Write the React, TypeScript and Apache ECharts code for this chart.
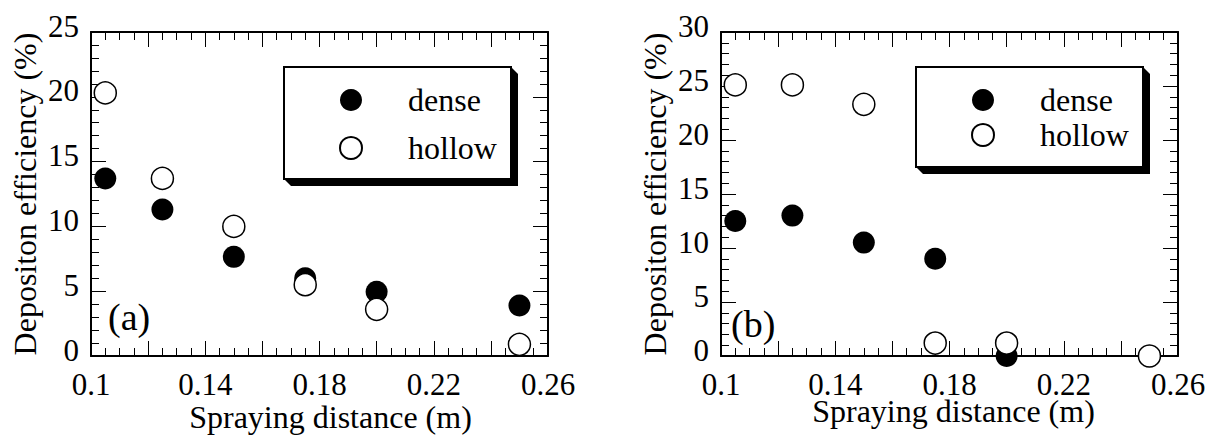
import React, { useEffect, useRef } from "react";
import * as echarts from "echarts";

const xDist = [0.105, 0.125, 0.15, 0.175, 0.2, 0.25];
const denseA = [13.7, 11.3, 7.65, 6.0, 4.95, 3.9];
const hollowA = [20.3, 13.7, 10.0, 5.5, 3.6, 0.9];
const denseB = [12.5, 13.0, 10.5, 9.0, 0.0, 0.0];
const hollowB = [25.1, 25.1, 23.3, 1.2, 1.2, 0.0];
const seriesNames = ["dense", "hollow"];
const panelLabels = ["(a)", "(b)"];
const yMaxes = [25, 30];
const xTitle = "Spraying distance (m)";
const yTitle = "Depositon efficiency (%)";

const FONT = "'Liberation Serif', 'Times New Roman', Times, serif";

export default function App() {
  const ref = useRef<HTMLDivElement>(null);
  useEffect(() => {
    if (!ref.current) return;
    const chart = echarts.init(ref.current, undefined, { renderer: "svg" });
    const grids = [
      { left: 91, top: 32, width: 457, height: 324, outerBoundsMode: "none", containLabel: false },
      { left: 721, top: 32, width: 457, height: 324, outerBoundsMode: "none", containLabel: false },
    ];
    const xLabelFmt = (v: number) => {
      const k = Math.round(v * 100);
      return k % 4 === 2 ? String(Number(v.toFixed(2))) : "";
    };
    const xAxes: any[] = [];
    const yAxes: any[] = [];
    [0, 1].forEach((g) => {
      ["bottom", "top"].forEach((pos) => {
        xAxes.push({
          type: "value",
          gridIndex: g,
          position: pos,
          min: 0.1,
          max: 0.26,
          interval: 0.02,
          splitLine: { show: false },
          axisLine: { show: true, onZero: false, lineStyle: { color: "#000", width: 2 } },
          axisTick: { show: true, inside: true, length: 15, lineStyle: { color: "#000", width: 1 } },
          minorTick: { show: true, splitNumber: 4, length: 8, lineStyle: { color: "#000", width: 1 } },
          axisLabel: {
            show: pos === "bottom",
            formatter: xLabelFmt,
            color: "#000",
            fontFamily: FONT,
            fontSize: 31,
            lineHeight: 24,
            margin: 16,
            showMinLabel: true,
            showMaxLabel: true,
          },
          name: pos === "bottom" ? xTitle : "",
          nameLocation: "middle",
          nameMoveOverlap: false,
          nameGap: g === 0 ? 47 : 41,
          nameTextStyle: {
            color: "#000",
            fontFamily: FONT,
            fontSize: 32,
            lineHeight: 28,
            padding: g === 0 ? [0, 0, 0, 22] : [0, 0, 0, 8],
          },
        });
      });
      ["left", "right"].forEach((pos) => {
        yAxes.push({
          type: "value",
          gridIndex: g,
          position: pos,
          min: 0,
          max: yMaxes[g],
          interval: 5,
          splitLine: { show: false },
          axisLine: { show: true, onZero: false, lineStyle: { color: "#000", width: 2 } },
          axisTick: { show: true, inside: true, length: 15, lineStyle: { color: "#000", width: 1 } },
          minorTick: { show: true, splitNumber: 5, length: 8, lineStyle: { color: "#000", width: 1 } },
          axisLabel: {
            show: pos === "left",
            color: "#000",
            fontFamily: FONT,
            fontSize: 31,
            margin: 12,
            verticalAlign: "bottom",
            lineHeight: 12,
          },
          name: pos === "left" ? yTitle : "",
          nameLocation: "middle",
          nameMoveOverlap: false,
          nameGap: g === 0 ? 50 : 50,
          nameTextStyle: { color: "#000", fontFamily: FONT, fontSize: 32 },
        });
      });
    });

    const mk = (name: string, data: number[], g: number, hollow: boolean) => ({
      type: "scatter",
      name,
      xAxisIndex: g * 2,
      yAxisIndex: g * 2,
      symbol: "circle",
      symbolSize: 22,
      clip: false,
      data: xDist.map((x, i) => [x, data[i]]),
      itemStyle: hollow
        ? { color: "#fff", borderColor: "#000", borderWidth: 1.5, opacity: 1 }
        : { color: "#000", borderColor: "#000", borderWidth: 0, opacity: 1 },
    });

    const boxes = [
      { x: 284, y: 67, w: 227, h: 112 },
      { x: 916, y: 67, w: 227, h: 100 },
    ];
    const graphics: any[] = [];
    boxes.forEach((b) => {
      const s = 7;
      graphics.push({
        type: "polygon",
        z: 1,
        shape: {
          points: [
            [b.x, b.y + b.h],
            [b.x + s, b.y + b.h + s],
            [b.x + b.w + s, b.y + b.h + s],
            [b.x + b.w + s, b.y + s],
            [b.x + b.w, b.y],
          ],
        },
        style: { fill: "#000" },
      });
      graphics.push({
        type: "rect",
        z: 2,
        shape: { x: b.x, y: b.y, width: b.w, height: b.h },
        style: { fill: "#fff", stroke: "#000", lineWidth: 2 },
      });
    });
    graphics.push({
      type: "text",
      left: 108,
      top: 298,
      z: 3,
      style: { text: panelLabels[0], fontFamily: FONT, fontSize: 38, fill: "#000" },
    });
    graphics.push({
      type: "text",
      left: 731,
      top: 305,
      z: 3,
      style: { text: panelLabels[1], fontFamily: FONT, fontSize: 38, fill: "#000" },
    });

    const legendBase = {
      orient: "vertical",
      icon: "circle",
      itemWidth: 22,
      itemHeight: 22,
      padding: 0,
      selectedMode: false,
      z: 10,
      textStyle: {
        color: "#000",
        fontFamily: FONT,
        fontSize: 32,
        lineHeight: 32,
        padding: [0, 0, 0, 41],
      },
    };

    chart.setOption({
      animation: false,
      backgroundColor: "#fff",
      textStyle: { fontFamily: FONT },
      grid: grids,
      xAxis: xAxes,
      yAxis: yAxes,
      legend: [
        { ...legendBase, left: 339, top: 84, itemGap: 16, data: seriesNames },
        { ...legendBase, left: 971, top: 84, itemGap: 3, data: seriesNames },
      ],
      graphic: graphics,
      series: [
        mk(seriesNames[0], denseA, 0, false),
        mk(seriesNames[1], hollowA, 0, true),
        mk(seriesNames[0], denseB, 1, false),
        mk(seriesNames[1], hollowB, 1, true),
      ],
    });
    return () => chart.dispose();
  }, []);
  return (
    <div
      ref={ref}
      style={{ position: "fixed", left: 0, top: 0, width: 1216, height: 435, background: "#fff" }}
    />
  );
}
